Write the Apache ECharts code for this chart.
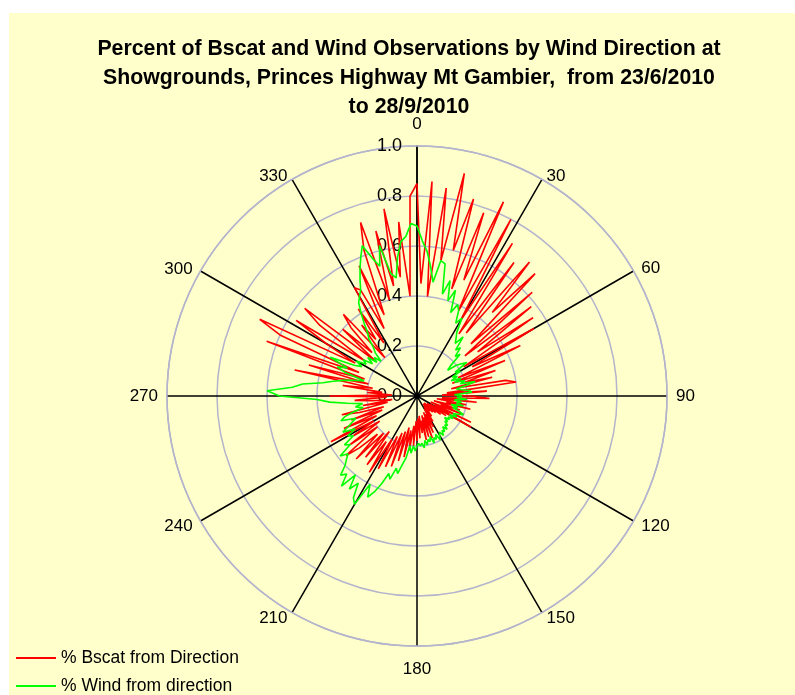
<!DOCTYPE html>
<html>
<head>
<meta charset="utf-8">
<script src="https://cdn.jsdelivr.net/npm/echarts@6/dist/echarts.min.js"></script>
<style>
html,body{margin:0;padding:0;background:#ffffff;}
#bg{position:absolute;left:9px;top:13px;width:786px;height:682px;background:#FFFFCC;}
#chart{position:absolute;left:0;top:0;width:795px;height:695px;}
</style>
</head>
<body>
<div id="bg"></div>
<div id="chart"></div>
<script>
// Wind direction step (degrees) for the data arrays below
var directionStep = 2;
// % Bscat from Direction, at directions 0,2,4,...,358
var bscat = [
0.85,0.45,0.86,0.40,0.84,0.55,0.91,0.60,0.82,0.45,
0.78,0.50,0.85,0.38,0.80,0.35,0.72,0.30,0.66,0.32,
0.70,0.45,0.68,0.30,0.62,0.25,0.58,0.30,0.56,0.22,
0.54,0.25,0.46,0.18,0.38,0.15,0.33,0.20,0.31,0.14,
0.36,0.40,0.12,0.28,0.10,0.22,0.29,0.10,0.24,0.08,
0.20,0.12,0.22,0.07,0.18,0.10,0.20,0.06,0.24,0.08,
0.25,0.06,0.14,0.05,0.12,0.06,0.10,0.04,0.09,0.05,
0.08,0.04,0.10,0.05,0.12,0.06,0.14,0.08,0.16,0.07,
0.18,0.09,0.17,0.08,0.18,0.10,0.15,0.08,0.17,0.09,
0.18,0.10,0.20,0.12,0.22,0.14,0.25,0.13,0.27,0.15,
0.30,0.16,0.31,0.18,0.33,0.20,0.36,0.22,0.34,0.18,
0.32,0.20,0.35,0.22,0.31,0.37,0.20,0.33,0.18,0.30,
0.20,0.39,0.18,0.32,0.15,0.28,0.14,0.24,0.31,0.12,
0.22,0.10,0.18,0.25,0.12,0.35,0.10,0.20,0.14,0.30,
0.18,0.50,0.20,0.45,0.22,0.64,0.25,0.60,0.70,0.28,
0.42,0.57,0.25,0.48,0.57,0.22,0.40,0.25,0.38,0.44,
0.20,0.36,0.28,0.42,0.25,0.50,0.48,0.30,0.57,0.35,
0.62,0.73,0.40,0.68,0.45,0.76,0.48,0.70,0.40,0.80
];
// % Wind from direction, at directions 0,2,4,...,358
var wind = [
0.68,0.62,0.58,0.52,0.46,0.55,0.54,0.42,0.48,0.40,
0.45,0.36,0.40,0.38,0.33,0.36,0.30,0.28,0.26,0.30,
0.24,0.26,0.22,0.24,0.18,0.16,0.20,0.22,0.24,0.18,
0.20,0.16,0.18,0.15,0.19,0.16,0.20,0.18,0.24,0.20,
0.16,0.18,0.21,0.22,0.15,0.18,0.16,0.20,0.15,0.18,
0.16,0.19,0.14,0.17,0.15,0.18,0.20,0.18,0.16,0.18,
0.15,0.17,0.15,0.16,0.14,0.16,0.15,0.17,0.16,0.18,
0.16,0.18,0.17,0.19,0.17,0.18,0.20,0.17,0.19,0.18,
0.20,0.17,0.19,0.18,0.20,0.18,0.21,0.19,0.20,0.19,
0.20,0.22,0.20,0.23,0.20,0.25,0.28,0.32,0.30,0.35,
0.33,0.38,0.42,0.45,0.40,0.50,0.48,0.42,0.46,0.40,
0.47,0.42,0.44,0.40,0.38,0.36,0.39,0.33,0.35,0.30,
0.32,0.28,0.33,0.30,0.28,0.26,0.32,0.30,0.26,0.22,
0.25,0.22,0.28,0.35,0.40,0.55,0.60,0.50,0.46,0.38,
0.34,0.30,0.26,0.22,0.30,0.34,0.30,0.38,0.28,0.25,
0.28,0.24,0.26,0.22,0.25,0.21,0.23,0.20,0.24,0.26,
0.30,0.32,0.36,0.40,0.44,0.46,0.48,0.52,0.56,0.60,
0.64,0.58,0.54,0.62,0.50,0.48,0.56,0.62,0.64,0.69
];
var angleTicks = ['0','30','60','90','120','150','180','210','240','270','300','330'];
var radiusTicks = [0.0,0.2,0.4,0.6,0.8,1.0];
var seriesNames = ['% Bscat from Direction','% Wind from direction'];
var titleText = 'Percent of Bscat and Wind Observations by Wind Direction at\nShowgrounds, Princes Highway Mt Gambier,  from 23/6/2010\nto 28/9/2010';

function toPolar(vals){
  var out = [];
  for (var i = 0; i < vals.length; i++) out.push([vals[i], i * directionStep]);
  out.push([vals[0], 360]);
  return out;
}

// label offsets (padding) for the direction labels
var labelPadding = {
  '0':[0,0,4,0], '30':[0,0,-13,0], '60':[0,0,-10,0], '90':[0,0,0,0],
  '120':[-8,0,0,0], '150':[-10,0,0,0], '180':[6,0,0,0], '210':[-10,0,0,0],
  '240':[-8,0,0,0], '270':[0,0,0,0], '300':[0,0,-11,0], '330':[0,0,-13,0]
};
var labelItems = angleTicks.map(function(t){
  return {value: t, textStyle: {padding: labelPadding[t]}};
});

var chart = echarts.init(document.getElementById('chart'), null, {renderer:'canvas'});
chart.setOption({
  backgroundColor: 'transparent',
  animation: false,
  title: {
    text: titleText,
    left: 404, textAlign: 'center',
    top: 30,
    textStyle: {fontFamily:'Liberation Sans', fontWeight:'bold', fontSize:21.3, lineHeight:29, color:'#000'}
  },
  legend: [
    {left: 11, top: 644, itemWidth: 40, itemHeight: 2, icon: 'rect',
     textStyle: {fontFamily:'Liberation Sans', fontSize:17.5, color:'#000'}, data: [seriesNames[0]]},
    {left: 11, top: 672, itemWidth: 40, itemHeight: 2, icon: 'rect',
     textStyle: {fontFamily:'Liberation Sans', fontSize:17.5, color:'#000'}, data: [seriesNames[1]]}
  ],
  polar: [
    {center: [417, 396], radius: 250},
    {center: [417, 396], radius: 250}
  ],
  angleAxis: [
    {
      polarIndex: 0,
      type: 'value', min: 0, max: 360, interval: 30,
      startAngle: 90, clockwise: true,
      axisLine: {show: true, lineStyle: {color:'#B4B4CC', width: 1.5}},
      axisTick: {show: false},
      axisLabel: {show: false},
      splitLine: {show: true, lineStyle: {color:'#000', width: 1.5}}
    },
    {
      polarIndex: 1,
      type: 'category', data: labelItems, boundaryGap: false,
      startAngle: 90, clockwise: true,
      axisLine: {show: false},
      axisTick: {show: false},
      splitLine: {show: false},
      axisLabel: {interval: 0, margin: 9, color:'#000', fontFamily:'Liberation Sans', fontSize: 17}
    }
  ],
  radiusAxis: [
    {
      polarIndex: 0,
      type: 'value', min: 0, max: 1, interval: 0.2,
      axisLine: {show: true, lineStyle: {color:'#000', width: 1.5}},
      axisTick: {show: false},
      axisLabel: {
        margin: 15, color:'#000', fontFamily:'Liberation Sans', fontSize: 18,
        formatter: function(v){ return v.toFixed(1); }
      },
      splitLine: {show: true, lineStyle: {color:'#B4B4CC', width: 1.5}}
    },
    {
      polarIndex: 1, type: 'value', min: 0, max: 1, show: false
    }
  ],
  series: [
    {name: seriesNames[0], type:'line', coordinateSystem:'polar', polarIndex: 0, data: toPolar(bscat),
     symbol:'none', lineStyle:{color:'#FF0000', width:1.6}, itemStyle:{color:'#FF0000'}},
    {name: seriesNames[1], type:'line', coordinateSystem:'polar', polarIndex: 0, data: toPolar(wind),
     symbol:'none', lineStyle:{color:'#00FF00', width:1.6}, itemStyle:{color:'#00FF00'}}
  ]
});
</script>
</body>
</html>
